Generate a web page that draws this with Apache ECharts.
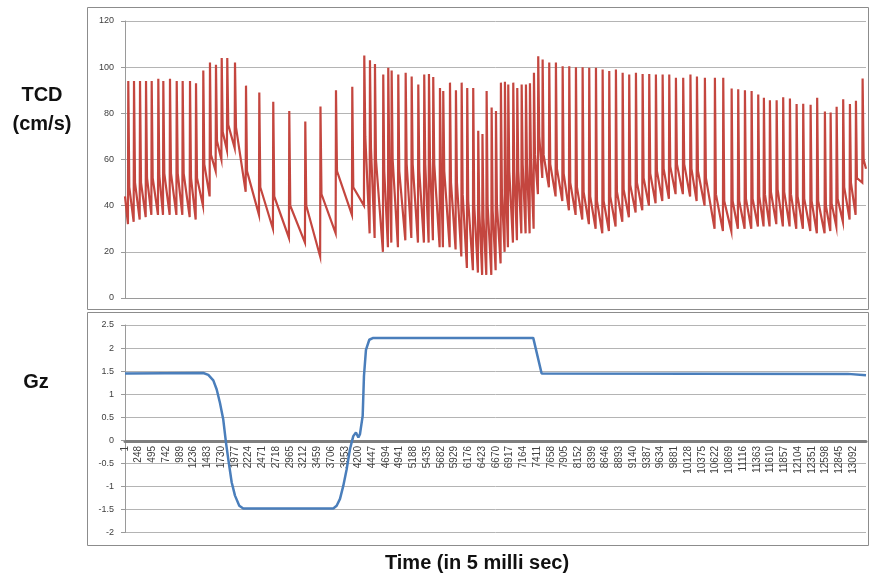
<!DOCTYPE html>
<html><head><meta charset="utf-8">
<script src="https://cdn.jsdelivr.net/npm/echarts@6/dist/echarts.min.js"></script>
<style>html,body{margin:0;padding:0;background:#fff}#c{width:869px;height:575px}</style>
</head><body><div id="c"></div>
<script>
// ---- tick labels (time index, step 247) ----
const tickLabels = ["1","248","495","742","989","1236","1483","1730","1977","2224","2471","2718","2965","3212","3459","3706","3953","4200","4447","4694","4941","5188","5435","5682","5929","6176","6423","6670","6917","7164","7411","7658","7905","8152","8399","8646","8893","9140","9387","9634","9881","10128","10375","10622","10869","11116","11363","11610","11857","12104","12351","12598","12845","13092"];
const tickStep = 247;
const xMax = 13325;

// ---- TCD beats ----
const beatSample = [59,162,270,378,480,599,689,809,930,1037,1169,1277,1408,1528,1636,1739,1839,1978,2176,2415,2666,2954,3242,3515,3794,4087,4303,4405,4495,4644,4734,4795,4914,5047,5155,5274,5381,5466,5543,5664,5723,5844,5951,6054,6154,6262,6352,6428,6503,6593,6671,6760,6832,6892,6982,7054,7133,7210,7282,7354,7431,7510,7629,7749,7870,7989,8109,8229,8348,8469,8589,8708,8828,8949,9067,9188,9308,9427,9547,9668,9787,9907,10038,10168,10285,10428,10608,10758,10909,11027,11148,11268,11387,11489,11597,11718,11836,11957,12077,12196,12329,12447,12586,12689,12797,12915,13036,13144,13264];
const beatPeak = [94,94,94,94,94,95,94,95,94,94,94,93,98.6,102,101,104,104,102,92,89,85,81,76.5,83,90,91.5,105,103,101.4,96.8,99.7,98.6,96.8,97.6,96,92.5,96.8,97,95.7,91,89.7,93.3,90,93.3,91,91,72.5,71,89.7,82.5,81,93.3,93.7,92.5,93.3,91,92.5,92.5,93,97.6,104.7,103.3,102,102,100.4,100.4,100,100,99.7,99.7,99,98.3,99,97.6,96.8,97.6,97,97,96.8,96.8,96.8,95.4,95.4,96.8,96,95.4,95.4,95.4,90.8,90.4,90,89.7,88.2,86.8,85.7,85.7,87,86.4,84,84.2,83.7,86.8,80.8,80.4,82.8,86.1,84,85.4,95.1];
const beatLow = [32,33,34,35,36,36,36,36,36,36,35,34,40,44,55,60,64,65,46,36,30,26,24,18,28,36,40,28,26,20,22,24,22,25,26,24,24,24,25,22,22,22,21,18,13,12,11,10,10,10,12,15,20,22,24,25,28,28,28,30,45,52,48,44,42,38,36,34,32,30,28,29,31,33,35,37,38,40,41,42,43,45,45,44,42,40,30,29,29,30,30,30,31,31,31,32,31,31,30,30,29,28,28,29,31,33,34,36,50];
const beatPost = [48,50,50,52,52,53,54,54,54,54,52,52,58,62,68,72,75,74,55,48,44,40,40,45,55,48,70,65,60,55,60,60,55,58,58,55,58,60,58,55,55,50,50,45,42,40,38,35,40,38,40,45,50,55,55,55,58,58,60,62,70,62,58,56,54,50,48,46,44,42,42,44,46,47,49,50,52,54,55,56,57,58,58,56,55,52,45,42,42,42,43,43,44,45,46,47,46,45,44,43,42,42,40,41,43,48,50,52,60];
const tcdStart = 44;
const tcdEnd = 56;

// ---- Gz profile ----
const gzSample = [0,1408,1498,1588,1649,1708,1767,1816,1857,1918,1978,2055,2127,3745,3806,3866,3925,3986,4046,4105,4153,4197,4225,4274,4297,4333,4393,4464,7341,7492,13000,13325];
const gzValue  = [1.45,1.46,1.42,1.3,1.1,0.81,0.45,-0.05,-0.41,-0.91,-1.2,-1.42,-1.48,-1.48,-1.42,-1.27,-0.99,-0.63,-0.19,0.09,0.17,0.06,0.13,0.53,1.39,1.96,2.18,2.22,2.22,1.45,1.44,1.41];

// build series
const tcdData = [[0, tcdStart]];
for (let i = 0; i < beatSample.length; i++) {
  tcdData.push([beatSample[i] - 6, beatLow[i]]);
  tcdData.push([beatSample[i], beatPeak[i]]);
  tcdData.push([beatSample[i] + 18, beatPost[i]]);
}
tcdData.push([xMax, tcdEnd]);
const gzData = gzSample.map((s, i) => [s, gzValue[i]]);

const FONT = '"Liberation Sans", Arial, sans-serif';
const labelFmt = v => {
  const k = Math.round(v / tickStep);
  if (Math.abs(v - k * tickStep) > 0.5) return '';
  return tickLabels[k] || '';
};

const chart = echarts.init(document.getElementById('c'), null, {renderer: 'canvas'});
chart.setOption({
  animation: false,
  backgroundColor: '#fff',
  grid: [
    {left: 125, right: 3, top: 21, height: 277},
    {left: 125, right: 3, top: 325, height: 207.5}
  ],
  xAxis: [
    {gridIndex: 0, type: 'value', min: 0, max: xMax, interval: tickStep,
     axisLine: {show: true, lineStyle: {color: '#9a9a9a', width: 1}},
     axisTick: {show: false}, axisLabel: {show: false}, splitLine: {show: false}},
    {gridIndex: 1, type: 'value', min: 0, max: xMax, interval: tickStep,
     position: 'bottom', offset: -91.5,
     axisLine: {show: true, onZero: false, lineStyle: {color: '#7f7f7f', width: 3}},
     axisTick: {show: false},
     axisLabel: {show: true, rotate: 90, fontSize: 10, color: '#404040', fontFamily: FONT,
                 margin: 5, formatter: labelFmt, showMaxLabel: false, showMinLabel: true},
     splitLine: {show: false}}
  ],
  yAxis: [
    {gridIndex: 0, type: 'value', min: 0, max: 120, interval: 20,
     axisLine: {show: true, lineStyle: {color: '#9a9a9a'}},
     axisTick: {show: true, length: 4, lineStyle: {color: '#9a9a9a'}},
     axisLabel: {fontSize: 9, color: '#404040', fontFamily: FONT, margin: 11},
     splitLine: {show: true, lineStyle: {color: '#b4b4b4', width: 1}}},
    {gridIndex: 1, type: 'value', min: -2, max: 2.5, interval: 0.5,
     axisLine: {show: true, onZero: false, lineStyle: {color: '#9a9a9a'}},
     axisTick: {show: true, length: 4, lineStyle: {color: '#9a9a9a'}},
     axisLabel: {fontSize: 9, color: '#404040', fontFamily: FONT, margin: 11},
     splitLine: {show: true, lineStyle: {color: '#b4b4b4', width: 1}}}
  ],
  series: [
    {name: 'TCD', type: 'line', xAxisIndex: 0, yAxisIndex: 0, data: tcdData,
     showSymbol: false, symbol: 'none', sampling: null, z: 3,
     lineStyle: {color: '#c4463f', width: 2.2, join: 'miter'}},
    {name: 'Gz', type: 'line', xAxisIndex: 1, yAxisIndex: 1, data: gzData,
     showSymbol: false, symbol: 'none', z: 3,
     lineStyle: {color: '#4a7ebb', width: 2.5}}
  ],
  graphic: [
    {type: 'rect', shape: {x: 87.5, y: 7.5, width: 781, height: 302}, style: {fill: 'none', stroke: '#8c8c8c', lineWidth: 1}, silent: true, z: -1},
    {type: 'rect', shape: {x: 87.5, y: 312.5, width: 781, height: 233}, style: {fill: 'none', stroke: '#8c8c8c', lineWidth: 1}, silent: true, z: -1},
    {type: 'text', x: 42, y: 95, style: {text: 'TCD', font: 'bold 20px ' + FONT, fill: '#111', textAlign: 'center', textVerticalAlign: 'middle'}},
    {type: 'text', x: 42, y: 124, style: {text: '(cm/s)', font: 'bold 20px ' + FONT, fill: '#111', textAlign: 'center', textVerticalAlign: 'middle'}},
    {type: 'text', x: 36, y: 382, style: {text: 'Gz', font: 'bold 20px ' + FONT, fill: '#111', textAlign: 'center', textVerticalAlign: 'middle'}},
    {type: 'text', x: 477, y: 563, style: {text: 'Time (in 5 milli sec)', font: 'bold 20px ' + FONT, fill: '#111', textAlign: 'center', textVerticalAlign: 'middle'}}
  ]
});
</script>
</body></html>
